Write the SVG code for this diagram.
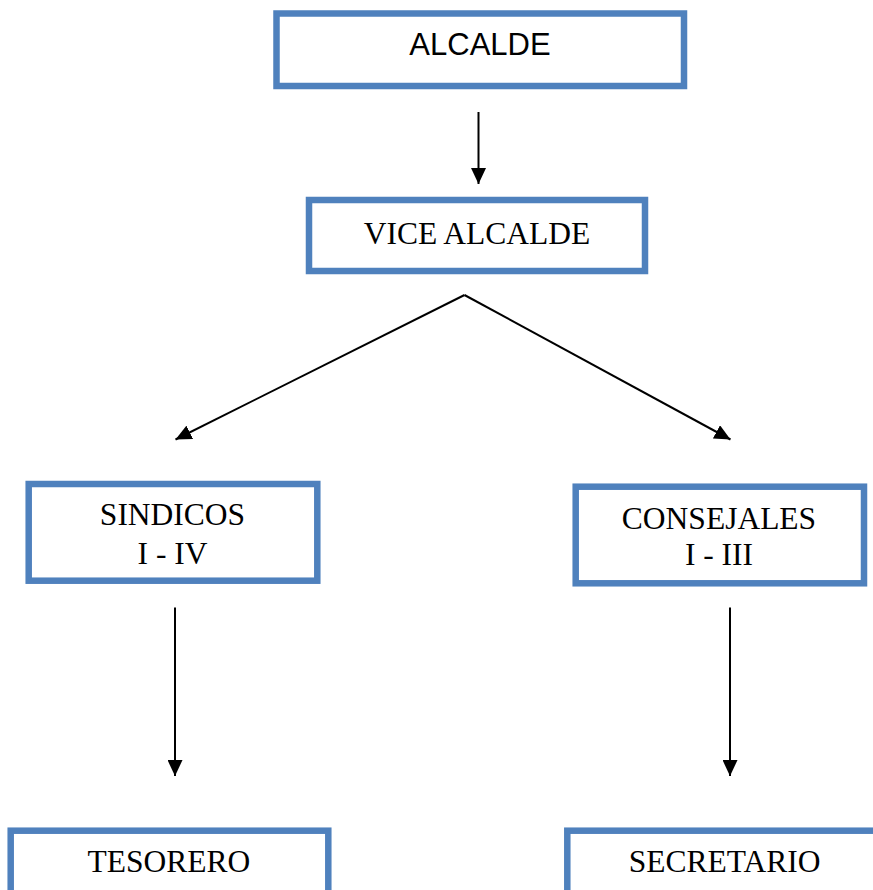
<svg xmlns="http://www.w3.org/2000/svg" width="873" height="890" viewBox="0 0 873 890">
<defs>
<marker id="ah" markerUnits="userSpaceOnUse" markerWidth="16" markerHeight="15" refX="16" refY="7.5" orient="auto">
<path d="M0,0 L16,7.5 L0,15 z" fill="#000"/>
</marker>
</defs>
<style>
.box{fill:#fff;stroke:#4F81BD;stroke-width:6.5}
.t{font-family:"Liberation Serif","Times New Roman",serif;font-size:31.5px;fill:#000;text-anchor:middle}
.a{font-family:"Liberation Sans",Arial,sans-serif;font-size:31px;fill:#000;text-anchor:middle}
.c{stroke:#000;stroke-width:2;fill:none}
</style>
<rect width="873" height="890" fill="#fff"/>
<g id="connectors">
<line class="c" x1="478.5" y1="112" x2="478.5" y2="184" marker-end="url(#ah)"/>
<line class="c" x1="464.5" y1="295" x2="175.5" y2="439.5" marker-end="url(#ah)"/>
<line class="c" x1="464.5" y1="295" x2="730.5" y2="439.5" marker-end="url(#ah)"/>
<line class="c" x1="175" y1="607.5" x2="175" y2="776" marker-end="url(#ah)"/>
<line class="c" x1="730" y1="607.5" x2="730" y2="776" marker-end="url(#ah)"/>
</g>
<g id="alcalde">
<rect class="box" x="276.5" y="13.5" width="407.5" height="72.5"/>
<text class="a" x="480" y="55">ALCALDE</text>
</g>
<g id="vice-alcalde">
<rect class="box" x="309" y="200" width="336" height="71"/>
<text class="t" x="477" y="243.5">VICE ALCALDE</text>
</g>
<g id="sindicos">
<rect class="box" x="28.7" y="484" width="288.6" height="96.7"/>
<text class="t" x="172.5" y="525">SINDICOS</text>
<text class="t" x="172.5" y="563.5">I - IV</text>
</g>
<g id="consejales">
<rect class="box" x="575.7" y="486.7" width="288.3" height="96.6"/>
<text class="t" x="719" y="528.5">CONSEJALES</text>
<text class="t" x="719" y="565">I - III</text>
</g>
<g id="tesorero">
<rect class="box" x="10.7" y="830.7" width="317.6" height="80"/>
<text class="t" x="169" y="871.7">TESORERO</text>
</g>
<g id="secretario">
<rect class="box" x="567.3" y="830.7" width="330" height="80"/>
<text class="t" x="724.7" y="871.7">SECRETARIO</text>
</g>
</svg>
